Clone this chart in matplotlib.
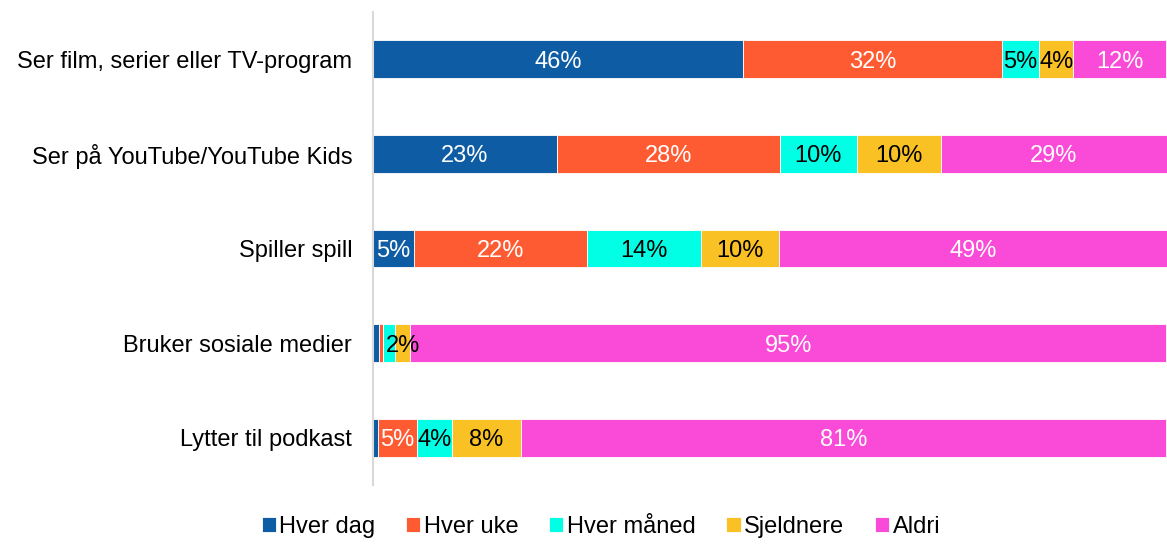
import numpy as np
import matplotlib.pyplot as plt

plt.rcParams['font.family'] = ['Liberation Sans', 'DejaVu Sans']

categories = ["Ser film, serier eller TV-program", "Ser på YouTube/YouTube Kids",
              "Spiller spill", "Bruker sosiale medier", "Lytter til podkast"]
series = ["Hver dag", "Hver uke", "Hver måned", "Sjeldnere", "Aldri"]
colors = ["#0E5CA4", "#FF5B33", "#00FFE5", "#FAC124", "#F94AD8"]
text_colors = ["white", "white", "black", "black", "white"]

# andel per kategori (rekkefølge som categories)
hver_dag = [46.6, 23.2, 5.2, 0.8, 0.6]
hver_uke = [32.7, 28.1, 21.8, 0.5, 4.9]
hver_maaned = [4.7, 9.7, 14.4, 1.5, 4.5]
sjeldnere = [4.3, 10.6, 9.8, 1.9, 8.6]
aldri = [11.7, 28.5, 48.9, 95.3, 81.4]

labels = [
    ["46%", "23%", "5%", "", ""],
    ["32%", "28%", "22%", "", "5%"],
    ["5%", "10%", "14%", "", "4%"],
    ["4%", "10%", "10%", "2%", "8%"],
    ["12%", "29%", "49%", "95%", "81%"],
]

values = [hver_dag, hver_uke, hver_maaned, sjeldnere, aldri]

fs = 17

fig = plt.figure(figsize=(11.67, 5.44), dpi=100)
ax = fig.add_axes([373 / 1167, 59 / 544, 1 - 373 / 1167, (485 - 12) / 544])

y = np.arange(len(categories))
left = np.zeros(len(categories))
for i, name in enumerate(series):
    vals = np.array(values[i])
    ax.barh(y, vals, left=left, height=0.4, color=colors[i], label=name,
            edgecolor="white", linewidth=0.6)
    for j in range(len(categories)):
        if labels[i][j]:
            ax.text(left[j] + vals[j] / 2, y[j], labels[i][j], ha="center",
                    va="center_baseline", fontsize=fs, color=text_colors[i])
    left += vals

ax.set_xlim(0, left.max())
ax.set_ylim(len(categories) - 0.5, -0.5)
ax.set_yticks(y)
ax.set_yticklabels(categories, fontsize=fs)
ax.tick_params(axis="y", length=0, pad=15)
ax.set_xticks([])
for s in ["top", "right", "bottom"]:
    ax.spines[s].set_visible(False)
ax.spines["left"].set_color("#D9D9D9")
ax.spines["left"].set_linewidth(1.5)

fig.legend(loc="lower center", bbox_to_anchor=(0.515, -0.028), ncol=5,
           frameon=False, fontsize=fs, handlelength=0.6, handleheight=0.6,
           handletextpad=0.15, columnspacing=1.3)

fig.savefig("out.png", dpi=100)
